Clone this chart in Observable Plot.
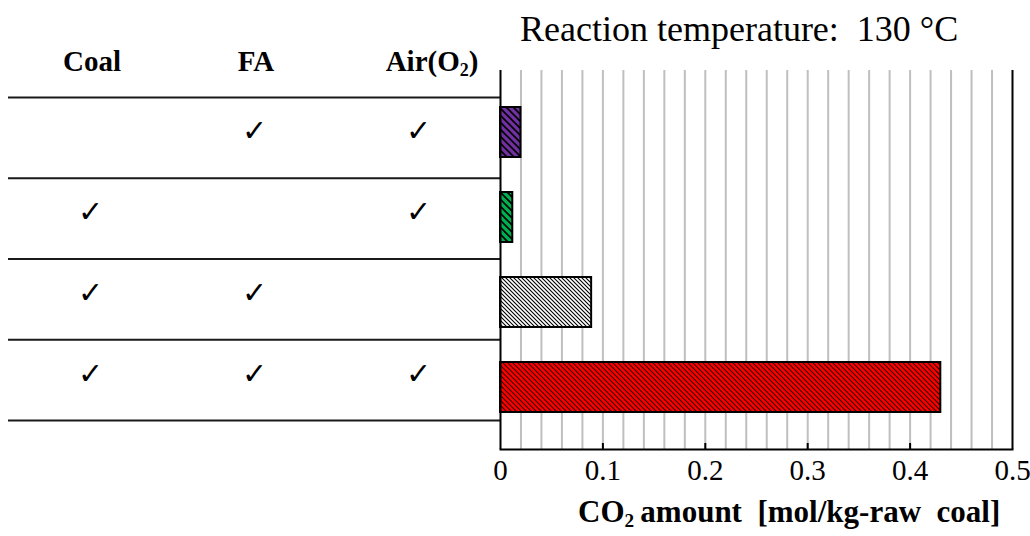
<!DOCTYPE html>
<html><head><meta charset="utf-8">
<script src="https://cdn.jsdelivr.net/npm/d3@7"></script>
<script src="https://cdn.jsdelivr.net/npm/@observablehq/plot@0.6"></script>
<style>
body{margin:0;background:#fff;}
#wrap{position:relative;width:1030px;height:536px;font-family:"Liberation Serif","Times New Roman",serif;color:#000;}
#wrap svg{position:absolute;left:0;top:0;}
#wrap svg.bars text{font-size:29px !important;font-family:"Liberation Serif","Times New Roman",serif !important;}
.lbl{position:absolute;white-space:nowrap;line-height:1;}
.lbl sub{font-size:0.62em;vertical-align:-0.28em;line-height:0;}
</style></head><body><div id="wrap"></div>
<script>
// ---- data ----
const conditions = ["FA + Air", "Coal + Air", "Coal + FA", "Coal + FA + Air"];
const columnLabels = ["Coal", "FA", "Air(O<sub>2</sub>)"];
const hasCoal = [false, true, true, true];
const hasFA = [true, false, true, true];
const hasAir = [true, true, false, true];
const co2 = [0.020, 0.012, 0.089, 0.430];
const barColors = ["#7030A0", "#00B050", "#FFFFFF", "#FF0000"];
const xTicks = [0, 0.1, 0.2, 0.3, 0.4, 0.5];
const gridTicks = [0.02, 0.04, 0.06, 0.08, 0.1, 0.12, 0.14, 0.16, 0.18, 0.2, 0.22, 0.24, 0.26, 0.28, 0.3, 0.32, 0.34, 0.36, 0.38, 0.4, 0.42, 0.44, 0.46, 0.48];
const titleText = "Reaction temperature:  130 °C";
const xLabelHTML = "CO<sub>2</sub>&thinsp;amount&nbsp; [mol/kg-raw&nbsp; coal]";

// ---- table (left) ----
const flags = [hasCoal, hasFA, hasAir];
const checks = [];
conditions.forEach((c, i) => flags.forEach((arr, j) => { if (arr[i]) checks.push({row: i, col: j}); }));

const table = Plot.plot({
  width: 1030, height: 536,
  marginLeft: 8, marginRight: 530, marginTop: 97, marginBottom: 116,
  style: {background: "transparent"},
  x: {domain: [0, columnLabels.length], axis: null},
  y: {domain: [0, conditions.length], reverse: true, axis: null},
  marks: [
    Plot.ruleY(d3.range(conditions.length + 1), {x1: 0, x2: columnLabels.length, stroke: "#1a1a1a", strokeWidth: 2}),
    Plot.text(checks, {x: d => d.col + 0.5, y: d => d.row + 0.5, text: () => "\u2713", fontSize: 30, fontFamily: "DejaVu Sans", dy: -6})
  ]
});

// ---- bars (right) ----
const bars = conditions.map((c, i) => ({condition: c, value: co2[i], fill: `url(#hatch${i})`}));
const chart = Plot.plot({
  width: 1030, height: 536,
  marginLeft: 500, marginRight: 18, marginTop: 70, marginBottom: 87,
  className: "bars",
  style: {fontFamily: "'Liberation Serif', 'Times New Roman', serif", fontSize: "29px", background: "transparent", color: "#000"},
  x: {domain: [0, 0.5]},
  y: {domain: conditions, paddingInner: 0.41, paddingOuter: 0.43, axis: null},
  color: {type: "identity"},
  marks: [
    Plot.gridX(gridTicks, {stroke: "#bfbfbf", strokeOpacity: 1, strokeWidth: 2}),
    Plot.barX(bars, {x: "value", y: "condition", fill: "fill", stroke: "#000", strokeWidth: 2}),
    Plot.ruleX([0, 0.5], {stroke: "#000", strokeWidth: 2}),
    Plot.frame({anchor: "bottom", stroke: "#000", strokeWidth: 2}),
    Plot.axisX(xTicks.slice(1, -1), {tickSize: -6, tickFormat: () => "", strokeWidth: 2, label: null}),
    Plot.axisX(xTicks, {tickSize: 0, tickPadding: 10, fontSize: 29, tickFormat: d => d === 0 ? "0" : d.toFixed(1), label: null})
  ]
});
chart.classList.add("bars");

// hatch patterns
const hatchStyle = [{s: 7, w: 1.6, c: "#000"}, {s: 7, w: 1.6, c: "#000"}, {s: 4, w: 1.1, c: "#000"}, {s: 5, w: 1.1, c: "#300000"}];
const defs = d3.select(chart).insert("defs", ":first-child");
barColors.forEach((col, i) => {
  const {s, w, c} = hatchStyle[i];
  const p = defs.append("pattern").attr("id", `hatch${i}`).attr("patternUnits", "userSpaceOnUse").attr("width", s).attr("height", s);
  p.append("rect").attr("width", s).attr("height", s).attr("fill", col);
  p.append("path").attr("d", `M-1,-1L${s + 1},${s + 1}M-1,${s - 1}L1,${s + 1}M${s - 1},-1L${s + 1},1`)
    .attr("stroke", c).attr("stroke-width", w).attr("fill", "none");
});

const wrap = document.getElementById("wrap");
wrap.appendChild(table);
wrap.appendChild(chart);
d3.select(chart).selectAll("text").attr("font-size", 29).style("font-size", "29px");

// texts
function addLabel(html, css) {
  const d = document.createElement("div");
  d.className = "lbl";
  d.innerHTML = html;
  Object.assign(d.style, css);
  wrap.appendChild(d);
  return d;
}
addLabel(titleText.replace(/ /g, "&nbsp;"), {left: "520px", top: "11px", fontSize: "36px"});
const tx = table.scale("x");
const headerShift = [2, 2, 14];
columnLabels.forEach((lab, j) => {
  addLabel(lab, {left: (tx.apply(j + 0.5) + headerShift[j]) + "px", top: "47px", fontSize: "29px", fontWeight: "bold", transform: "translateX(-50%)"});
});
addLabel(xLabelHTML, {left: "578px", top: "496px", fontSize: "31px", fontWeight: "bold"});
</script></body></html>
